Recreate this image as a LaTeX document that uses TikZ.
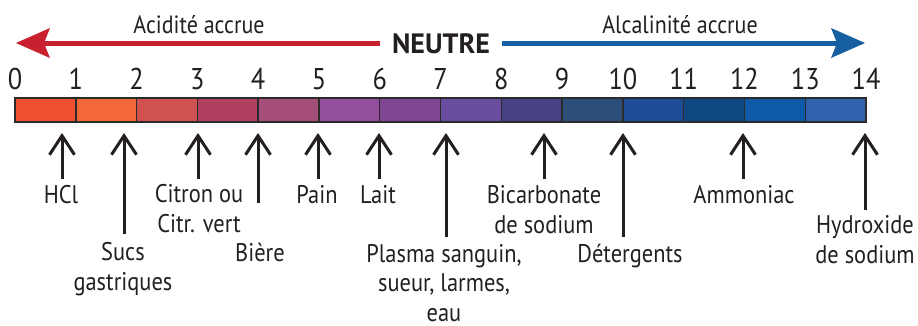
\documentclass[tikz,border=0pt]{standalone}
\usepackage{fontspec}
\setmainfont{PT Sans}[FakeStretch=0.88]
\newfontfamily\neutrefont{PT Sans}
\usetikzlibrary{arrows.meta}
\definecolor{txt}{HTML}{231F20}
\definecolor{acidred}{RGB}{200,32,46}
\definecolor{alkblue}{RGB}{22,95,160}
\definecolor{barline}{HTML}{2B2B2B}
\definecolor{c1}{RGB}{239,80,50}
\definecolor{c2}{RGB}{243,104,55}
\definecolor{c3}{RGB}{208,82,80}
\definecolor{c4}{RGB}{176,64,96}
\definecolor{c5}{RGB}{166,78,122}
\definecolor{c6}{RGB}{147,79,158}
\definecolor{c7}{RGB}{128,70,150}
\definecolor{c8}{RGB}{105,78,160}
\definecolor{c9}{RGB}{72,66,132}
\definecolor{c10}{RGB}{45,78,120}
\definecolor{c11}{RGB}{30,76,150}
\definecolor{c12}{RGB}{16,73,130}
\definecolor{c13}{RGB}{14,90,168}
\definecolor{c14}{RGB}{48,98,176}
\begin{document}
\begin{tikzpicture}[x=1pt,y=1pt,
  lbl/.style={font=\fontsize{25.5}{29.5}\selectfont, text=txt, inner sep=0pt, align=center, anchor=base},
  digit/.style={font=\fontsize{30}{32}\selectfont, text=txt, inner sep=0pt, anchor=base},
  head/.style={font=\fontsize{25}{28}\selectfont, text=txt, inner sep=0pt, anchor=base},
  ptr/.style={line width=3pt, draw=txt, -{Straight Barb[length=19pt,width=25pt,line width=3pt]}},
  bigarrow/.style={line width=5pt, -{Stealth[length=34pt,width=30pt,inset=6pt,line width=0pt]}}]
\useasboundingbox (0,0) rectangle (918,-325);
% bar
\foreach \i in {1,...,14}{
  \pgfmathsetmacro{\xa}{15+60.79*(\i-1)}
  \pgfmathsetmacro{\xb}{15+60.79*\i}
  \fill[c\i] (\xa,-98) rectangle (\xb,-122);
  \draw[barline, line width=1.5pt] (\xa,-98) rectangle (\xb,-122);
}
\foreach \i in {0,...,14}{
  \node[digit] (d\i) at ({15+60.79*\i},-89) {\i};
}
% top arrows
\node[head] (acid) at (199,-33) {Acidité accrue};
\node[head] (alk) at (680,-33) {Alcalinité accrue};
\node[head, font=\fontsize{28}{30}\selectfont\neutrefont\bfseries] (neutre) at (441,-53) {NEUTRE};
\coordinate (acidtip) at (16,-43);
\coordinate (alktip) at (865,-43);
\draw[bigarrow, acidred] (neutre.west |- 0,-43) ++(-12,0) -- (acidtip);
\draw[bigarrow, alkblue] (neutre.east |- 0,-43) ++(12,0) -- (alktip);
% labels (anchor = baseline of last line)
\node[lbl] (hcl) at (61,-203) {HCl};
\node[lbl] (sucs) at (123,-290) {Sucs\\gastriques};
\node[lbl] (citron) at (199,-232) {Citron ou\\Citr. vert};
\node[lbl] (biere) at (260,-261) {Bière};
\node[lbl] (pain) at (317,-203) {Pain};
\node[lbl] (lait) at (378,-203) {Lait};
\node[lbl] (plasma) at (444,-321) {Plasma sanguin,\\sueur, larmes,\\eau};
\node[lbl] (bicarb) at (544,-233) {Bicarbonate\\de sodium};
\node[lbl] (deter) at (630,-262) {Détergents};
\node[lbl] (ammon) at (744,-203) {Ammoniac};
\node[lbl] (hydrox) at (865,-263) {Hydroxide\\de sodium};
% pointer coordinates
\foreach \n/\x/\yb in {hcl/62/179, sucs/124/234, citron/198/179, biere/258/203, pain/318/179, lait/379/179, plasma/446/237, bicarb/544/179, deter/623/237, ammon/743/179, hydrox/865/210}{
  \coordinate (\n-b) at (\x,-\yb);
  \coordinate (\n-t) at (\x,-133);
  \draw[ptr] (\n-b) -- (\n-t);
}
\end{tikzpicture}
\end{document}
